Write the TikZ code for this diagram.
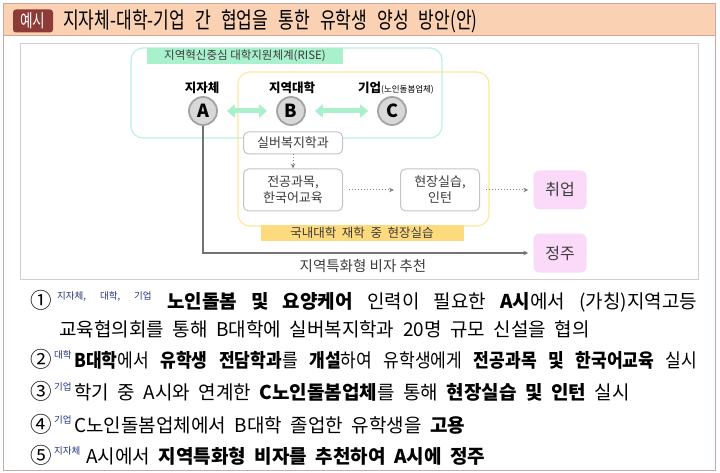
\documentclass[tikz,border=0pt]{standalone}
\usepackage{fontspec}
\setmainfont{Noto Sans CJK KR}
\newfontfamily\titlefont[FakeStretch=0.76]{Noto Sans CJK KR}
\newfontfamily\tightfont[FakeStretch=0.9]{Noto Sans CJK KR}
\usetikzlibrary{arrows.meta}
\definecolor{headpeach}{HTML}{FAD1B2}
\definecolor{frameline}{HTML}{C9A8A6}
\definecolor{headline}{HTML}{D2A58E}
\definecolor{tagred}{HTML}{8C3B36}
\definecolor{panelline}{HTML}{CFCFCF}
\definecolor{riseline}{HTML}{B8F3D8}
\definecolor{risefill}{HTML}{A9F0CD}
\definecolor{campline}{HTML}{FFE59E}
\definecolor{campfill}{HTML}{FDDA7E}
\definecolor{circfill}{HTML}{D8D8D8}
\definecolor{circline}{HTML}{A3A3A3}
\definecolor{boxline}{HTML}{C4C4C4}
\definecolor{goalfill}{HTML}{FADAF8}
\definecolor{darktxt}{HTML}{3C3C3C}
\definecolor{roleblue}{HTML}{23317F}
\newcommand\widegap{\spaceskip 0.45em plus 0.5em minus 0.1em\relax}

\begin{document}
\begin{tikzpicture}[x=1pt,y=-1pt,>={Stealth[length=5pt,width=4.5pt]},
  actor/.style={circle,draw=circline,line width=1.8pt,fill=circfill,minimum size=28pt,inner sep=0pt,font=\bfseries\fontsize{18}{18}\selectfont},
  role/.style={font=\bfseries\fontsize{12.5}{14}\selectfont},
  stepbox/.style={draw=boxline,line width=1pt,rounded corners=5pt,fill=white,align=center,text=darktxt,font=\fontsize{13}{16}\selectfont},
  goal/.style={fill=goalfill,rounded corners=6pt,minimum width=53pt,minimum height=39pt,text=darktxt,font=\fontsize{16}{18}\selectfont},
  pair/.style={draw=risefill,line width=5pt,{Triangle[width=13pt,length=8pt]}-{Triangle[width=13pt,length=8pt]},shorten <=9pt,shorten >=9pt},
  flow/.style={draw=gray,line width=1pt,dotted,->},
  itemnum/.style={anchor=base west,inner sep=0pt,font=\fontsize{21.5}{22}\selectfont},
  rolelab/.style={anchor=base west,inner sep=0pt,text=roleblue,font=\fontsize{9.5}{10}\selectfont},
  itemline/.style={anchor=base west,inner sep=0pt,font=\fontsize{19}{19}\selectfont\widegap}]
\useasboundingbox (0,0) rectangle (720,473);

% header and frame
\fill[headpeach] (3,4) rectangle (715,36);
\draw[headline,line width=1pt] (3,36) -- (715,36);
\draw[frameline,line width=1pt] (3,4) rectangle (715,470);
\node[fill=tagred,text=white,rounded corners=3pt,minimum width=40pt,minimum height=23pt,inner sep=0pt,font=\titlefont\fontsize{18}{18}\selectfont] (tag) at (33,21) {예시};
\node[anchor=west,inner sep=0pt,font=\titlefont\fontsize{22.5}{23}\selectfont\widegap] (title) at (63,21) {지자체-대학-기업 간 협업을 통한 유학생 양성 방안(안)};

% diagram panel
\draw[panelline,line width=1pt] (20,44) rectangle (698,279);
\draw[campline,line width=1.2pt,rounded corners=12pt] (238,72) rectangle (489,226);
\draw[riseline,line width=1.2pt,rounded corners=12pt] (131,48) rectangle (442,138);
\node[fill=risefill,minimum width=196pt,minimum height=16pt,inner sep=0pt,text=darktxt,font=\fontsize{11.5}{12}\selectfont] (rise) at (245,56) {지역혁신중심 대학지원체계(RISE)};
\node[fill=campfill,minimum width=203pt,minimum height=15pt,inner sep=0pt,text=darktxt,font=\fontsize{12.5}{13}\selectfont\widegap] (camp) at (362,233) {국내대학 재학 중 현장실습};

\node[actor] (A) at (203,111) {A};
\node[actor] (B) at (291,111) {B};
\node[actor] (C) at (392,111) {C};
\node[role] (lA) at (202,88) {지자체};
\node[role] (lB) at (292,88) {지역대학};
\node[role] (lC) at (396,88) {기업{\mdseries\fontsize{8.5}{9}\selectfont(노인돌봄업체)}};
\draw[pair] (A) -- (B);
\draw[pair] (B) -- (C);

\node[stepbox,minimum width=99pt,minimum height=22pt] (silver) at (293,143) {실버복지학과};
\node[stepbox,minimum width=99pt,minimum height=42pt] (major) at (293,190) {전공과목,\\한국어교육};
\node[stepbox,minimum width=79pt,minimum height=42pt] (intern) at (440,190) {현장실습,\\인턴};
\node[goal] (job) at (560,190) {취업};
\node[goal] (settle) at (560,253) {정주};
\draw[flow] (silver) -- (major);
\draw[flow,shorten <=6pt,shorten >=6pt] (major) -- (intern);
\draw[flow,shorten <=6pt,shorten >=5pt] (intern) -- (job);
\draw[gray!90!black,line width=1.2pt,->,shorten >=5pt] (A) |- (settle);
\node[text=darktxt,font=\fontsize{14.5}{15}\selectfont] (visa) at (363,266) {지역특화형 비자 추천};

% list
\node[itemnum] (n1) at (30,308) {①};
\node[rolelab] (r1) at (57,299) {지자체,\hspace{14pt}대학,\hspace{14pt}기업};
\node[itemline] (t1) at (167,308) {\makebox[530pt][s]{\textbf{노인돌봄 및 요양케어} 인력이 필요한 \textbf{A시}에서 (가칭)지역고등}};
\node[itemline] (t1b) at (59,336) {교육협의회를 통해 B대학에 실버복지학과 20명 규모 신설을 협의};
\node[itemnum] (n2) at (30,367) {②};
\node[rolelab] (r2) at (54,358) {대학};
\node[itemline,font={\tightfont\fontsize{19}{19}\selectfont\widegap}] (t2) at (74,367) {\makebox[623pt][s]{\textbf{B대학}에서 \textbf{유학생 전담학과}를 \textbf{개설}하여 유학생에게 \textbf{전공과목 및 한국어교육} 실시}};
\node[itemnum] (n3) at (30,399) {③};
\node[rolelab] (r3) at (54,390) {기업};
\node[itemline] (t3) at (74,399) {학기 중 A시와 연계한 \textbf{C노인돌봄업체}를 통해 \textbf{현장실습 및 인턴} 실시};
\node[itemnum] (n4) at (30,432) {④};
\node[rolelab] (r4) at (54,423) {기업};
\node[itemline] (t4) at (74,432) {C노인돌봄업체에서 B대학 졸업한 유학생을 \textbf{고용}};
\node[itemnum] (n5) at (30,463) {⑤};
\node[rolelab] (r5) at (54,454) {지자체};
\node[itemline] (t5) at (86,463) {A시에서 \textbf{지역특화형 비자를 추천하여 A시에 정주}};
\end{tikzpicture}
\end{document}
